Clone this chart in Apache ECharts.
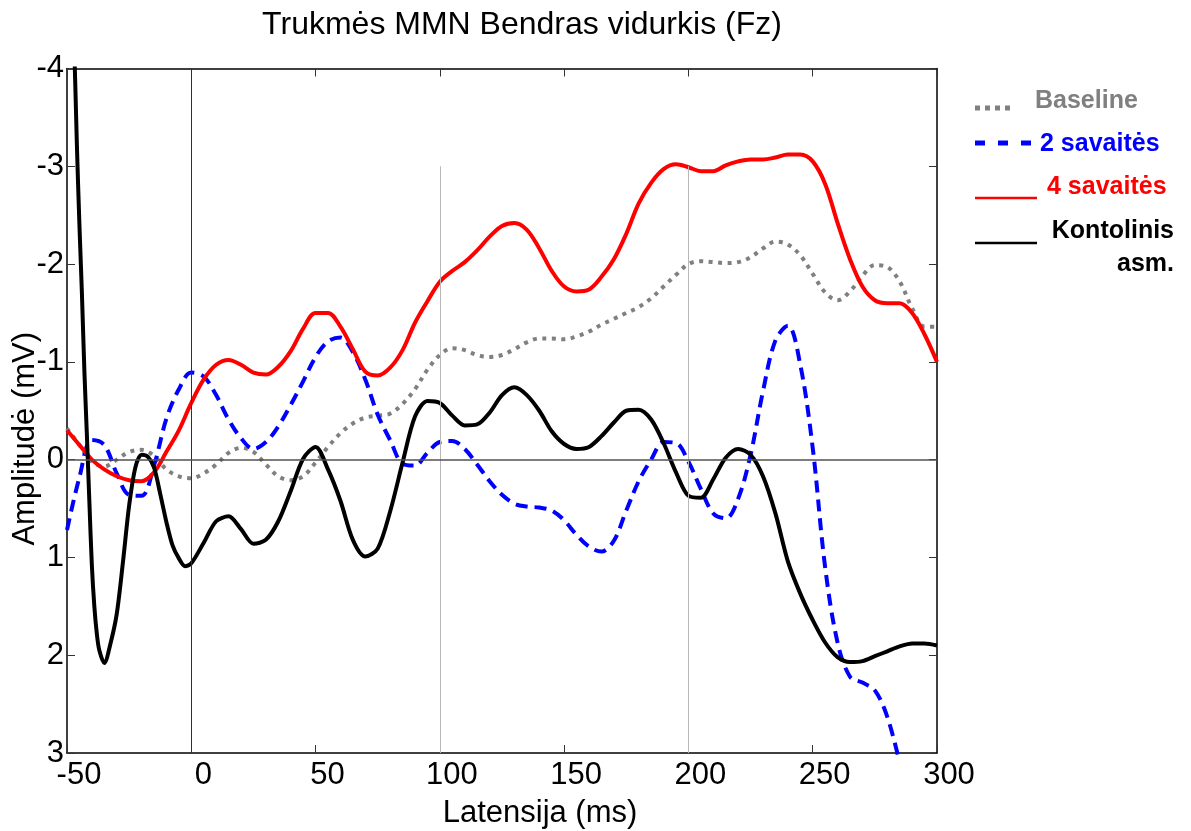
<!DOCTYPE html>
<html>
<head>
<meta charset="utf-8">
<script src="https://cdn.jsdelivr.net/npm/echarts@6/dist/echarts.min.js"></script>
<style>
html,body{margin:0;padding:0;background:#fff;}
#chart{width:1191px;height:831px;}
</style>
</head>
<body>
<div id="chart"></div>
<script>
// ---- data ----
const times = [-50,-45,-40,-35,-30,-25,-20,-15,-10,-5,0,5,10,15,20,25,30,35,40,45,50,55,60,65,70,75,80,85,90,95,100,105,110,115,120,125,130,135,140,145,150,155,160,165,170,175,180,185,190,195,200,205,210,215,220,225,230,235,240,245,250,255,260,265,270,275,280,285,290,295,300];

const baseline = [-0.32,-0.15,0.02,0.07,0.00,-0.08,-0.10,-0.04,0.10,0.17,
  0.19,0.14,0.05,-0.07,-0.12,-0.08,0.05,0.17,0.21,0.17,
  0.03,-0.13,-0.27,-0.37,-0.43,-0.45,-0.47,-0.57,-0.72,-0.92,
  -1.07,-1.14,-1.12,-1.07,-1.05,-1.07,-1.13,-1.20,-1.24,-1.24,
  -1.23,-1.26,-1.31,-1.38,-1.44,-1.50,-1.56,-1.65,-1.77,-1.89,
  -2.00,-2.03,-2.02,-2.01,-2.02,-2.07,-2.16,-2.23,-2.20,-2.09,
  -1.90,-1.71,-1.63,-1.72,-1.88,-1.99,-1.97,-1.82,-1.55,-1.36,-1.36];

const savaites2 = [0.72,0.18,-0.20,-0.15,0.14,0.36,0.37,0.06,-0.42,-0.72,
  -0.89,-0.85,-0.66,-0.41,-0.22,-0.11,-0.18,-0.34,-0.56,-0.80,
  -1.05,-1.21,-1.25,-1.10,-0.82,-0.46,-0.20,0.04,0.06,-0.07,
  -0.18,-0.19,-0.11,0.05,0.22,0.36,0.45,0.48,0.49,0.52,
  0.62,0.77,0.89,0.94,0.83,0.52,0.22,0.00,-0.18,-0.17,
  0.02,0.30,0.55,0.60,0.40,-0.05,-0.70,-1.22,-1.37,-0.97,
  -0.12,1.10,1.87,2.22,2.28,2.36,2.63,3.10];

const savaites4 = [-0.30,-0.15,0.00,0.10,0.17,0.21,0.22,0.13,-0.08,-0.30,
  -0.58,-0.82,-0.97,-1.02,-0.97,-0.89,-0.87,-0.95,-1.11,-1.34,
  -1.50,-1.50,-1.36,-1.13,-0.90,-0.86,-0.94,-1.12,-1.40,-1.62,
  -1.82,-1.93,-2.02,-2.14,-2.28,-2.39,-2.42,-2.35,-2.16,-1.93,
  -1.77,-1.72,-1.74,-1.87,-2.05,-2.31,-2.62,-2.83,-2.97,-3.02,
  -2.99,-2.95,-2.95,-3.01,-3.05,-3.07,-3.07,-3.09,-3.12,-3.12,
  -3.05,-2.82,-2.42,-2.05,-1.77,-1.63,-1.60,-1.60,-1.50,-1.28,-1.00];

const kontTimes = [-50,-47.5,-46,-45,-44,-43,-42,-41,-40,-39,-38,-37,-35,-32.5,-30,-27.5,-25,-22.5,-20,-17.5,-15,-12.5,-10,-7.5,-5,-2.5,
  0,5,10,15,20,25,30,35,40,45,50,55,60,65,70,75,80,85,90,95,100,105,110,115,120,125,130,135,140,145,150,155,160,165,170,175,180,185,190,195,200,205,210,215,220,225,230,235,240,245,250,255,260,265,270,275,280,285,290,295,300];
const kontolinis = [-6.5,-4.6,-3.2,-2.4,-1.7,-0.9,-0.25,0.43,1.08,1.50,1.78,1.95,2.08,1.88,1.58,1.05,0.47,0.08,-0.05,-0.03,0.08,0.35,0.64,0.88,1.01,1.09,
  1.06,0.85,0.63,0.58,0.71,0.86,0.82,0.63,0.32,-0.01,
  -0.13,0.10,0.42,0.82,0.99,0.91,0.53,0.03,-0.44,-0.60,
  -0.58,-0.45,-0.35,-0.36,-0.48,-0.66,-0.74,-0.66,-0.50,-0.29,
  -0.16,-0.11,-0.13,-0.24,-0.38,-0.50,-0.51,-0.41,-0.17,0.13,
  0.37,0.39,0.20,-0.02,-0.11,-0.05,0.17,0.55,1.04,1.37,
  1.64,1.87,2.02,2.07,2.06,2.01,1.96,1.91,1.88,1.88,1.90];

const xTicks = {min:-50, max:300, step:50};
const yTicks = {min:-4, max:3, step:1};

const titleText = 'Trukmės MMN Bendras vidurkis (Fz)';
const xName = 'Latensija (ms)';
const yName = 'Amplitudė (mV)';
const legendNames = ['Baseline','2 savaitės','4 savaitės','Kontolinis','asm.'];

// ---- build ----
function pairs(ts, vs){ const out=[]; for(let i=0;i<vs.length;i++) out.push([ts[i], vs[i]]); return out; }

const FONT = '"Liberation Sans", Arial, sans-serif';
const chart = echarts.init(document.getElementById('chart'), null, {renderer:'canvas'});

const tickStyle = {show:true, inside:true, length:8, lineStyle:{color:'#333', width:1}};
const lineStyleAxis = {show:true, onZero:false, lineStyle:{color:'#000', width:1.5}};

const option = {
  backgroundColor:'#fff',
  animation:false,
  title:{text:titleText, left:517, top:4, textAlign:'center',
    textStyle:{fontFamily:FONT, fontSize:32, fontWeight:'normal', color:'#000'}},
  grid:{left:67, right:254, top:68.5, bottom:78, containLabel:false, outerBoundsMode:'none'},
  xAxis:[
    {type:'value', min:xTicks.min, max:xTicks.max, interval:xTicks.step, position:'bottom',
     axisLine:lineStyleAxis, axisTick:tickStyle, splitLine:{show:false},
     axisLabel:{fontFamily:FONT, fontSize:31, color:'#000', margin:7, padding:[0,0,0,24]},
     name:xName, nameLocation:'middle', nameGap:45, nameMoveOverlap:false,
     nameTextStyle:{fontFamily:FONT, fontSize:31, color:'#000', padding:[0,0,0,76]}},
    {type:'value', min:xTicks.min, max:xTicks.max, interval:xTicks.step, position:'top',
     axisLine:lineStyleAxis, axisTick:tickStyle, axisLabel:{show:false}, splitLine:{show:false}}
  ],
  yAxis:[
    {type:'value', inverse:true, min:yTicks.min, max:yTicks.max, interval:yTicks.step, position:'left',
     axisLine:lineStyleAxis, axisTick:tickStyle, splitLine:{show:false},
     axisLabel:{fontFamily:FONT, fontSize:31, color:'#000', margin:3, padding:[10,0,0,0]},
     name:yName, nameLocation:'middle', nameGap:26, nameMoveOverlap:false,
     nameTextStyle:{fontFamily:FONT, fontSize:31, color:'#000', padding:[0,56,0,0]}},
    {type:'value', inverse:true, min:yTicks.min, max:yTicks.max, interval:yTicks.step, position:'right',
     axisLine:lineStyleAxis, axisTick:tickStyle, axisLabel:{show:false}, splitLine:{show:false}}
  ],
  series:[
    {type:'line', name:'refs', data:[], silent:true,
     markLine:{silent:true, symbol:'none', animation:false, label:{show:false},
       data:[
         [{coord:[0,yTicks.min], lineStyle:{color:'#303030', width:1, type:'solid'}},{coord:[0,yTicks.max]}],
         [{coord:[100,-3], lineStyle:{color:'#b8b8b8', width:1, type:'solid'}},{coord:[100,yTicks.max]}],
         [{coord:[200,-3], lineStyle:{color:'#b8b8b8', width:1, type:'solid'}},{coord:[200,yTicks.max]}],
         [{coord:[xTicks.min,0], lineStyle:{color:'#505050', width:1.5, type:'solid'}},{coord:[xTicks.max,0]}]
       ]}},
    {type:'line', name:legendNames[0], data:pairs(times, baseline), showSymbol:false, smooth:0.35, clip:true,
     lineStyle:{color:'#808080', width:4, type:[4,5.5], cap:'butt'}},
    {type:'line', name:legendNames[1], data:pairs(times, savaites2), showSymbol:false, smooth:0.35, clip:true,
     lineStyle:{color:'#0000ff', width:4, type:[12,7], cap:'butt'}},
    {type:'line', name:legendNames[2], data:pairs(times, savaites4), showSymbol:false, smooth:0.35, clip:true,
     lineStyle:{color:'#ff0000', width:4}},
    {type:'line', name:legendNames[3], data:pairs(kontTimes, kontolinis), showSymbol:false, smooth:0.3, clip:true,
     lineStyle:{color:'#000000', width:4}}
  ],
  graphic:[
    {type:'line', shape:{x1:975, y1:108, x2:1015, y2:108}, style:{stroke:'#808080', lineWidth:5, lineDash:[5,5]}},
    {type:'text', left:1035, top:89, style:{text:legendNames[0], fill:'#808080', font:'bold 25px "Liberation Sans", Arial, sans-serif'}},
    {type:'line', shape:{x1:975, y1:143, x2:1032, y2:143}, style:{stroke:'#0000ff', lineWidth:5, lineDash:[10,13]}},
    {type:'text', left:1040, top:131.5, style:{text:legendNames[1], fill:'#0000ff', font:'bold 25px "Liberation Sans", Arial, sans-serif'}},
    {type:'line', shape:{x1:975, y1:198, x2:1037, y2:198}, style:{stroke:'#ff0000', lineWidth:2.5}},
    {type:'text', left:1047, top:175, style:{text:legendNames[2], fill:'#ff0000', font:'bold 25px "Liberation Sans", Arial, sans-serif'}},
    {type:'line', shape:{x1:975, y1:243, x2:1037, y2:243}, style:{stroke:'#000000', lineWidth:2.5}},
    {type:'text', right:1191-1174, top:218.5, style:{text:legendNames[3], fill:'#000', font:'bold 25px "Liberation Sans", Arial, sans-serif'}},
    {type:'text', right:1191-1174, top:252, style:{text:legendNames[4], fill:'#000', font:'bold 25px "Liberation Sans", Arial, sans-serif'}}
  ]
};
chart.setOption(option);
</script>
</body>
</html>
